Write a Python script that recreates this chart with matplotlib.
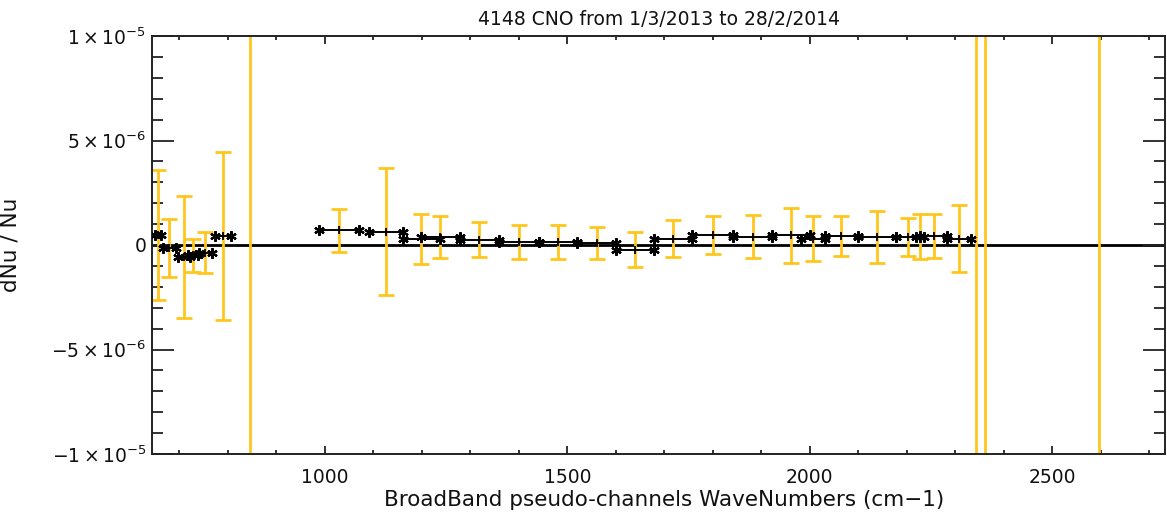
"""Relative wavenumber shift dNu/Nu per broadband pseudo-channel, IDL-style plot."""

import matplotlib

matplotlib.use("Agg")
import matplotlib.pyplot as plt
from matplotlib.ticker import MultipleLocator

# pseudo-channel limits (cm-1), shift dNu/Nu and its error (both in units of 1e-6)
wn_lo = [650, 667, 698, 719, 741, 774, 836, 988, 1091, 1161, 1199, 1278, 1359, 1441, 1521,
         1600, 1679, 1758, 1842, 1921, 1981, 2031, 2099, 2178, 2218, 2228, 2283, 2338, 2357, 2590]
wn_hi = [663, 693, 722, 739, 767, 806, 856, 1071, 1161, 1237, 1278, 1359, 1441, 1521, 1600,
         1679, 1758, 1842, 1922, 2000, 2031, 2099, 2178, 2226, 2235, 2283, 2332, 2348, 2367, 2600]
shift = [0.47, -0.13, -0.57, -0.50, -0.36, 0.44, 25.0, 0.70, 0.64, 0.28, 0.39, 0.26, 0.15, 0.14, 0.09,
         -0.22, 0.30, 0.48, 0.40, 0.46, 0.31, 0.42, 0.38, 0.38, 0.40, 0.45, 0.31, 25.0, 25.0, 25.0]
err = [3.10, 1.38, 2.93, 0.81, 0.97, 4.03, 60.0, 1.04, 3.03, 1.20, 1.00, 0.82, 0.81, 0.82, 0.77,
       0.85, 0.88, 0.90, 1.02, 1.30, 1.08, 0.97, 1.26, 0.89, 1.09, 1.05, 1.61, 60.0, 60.0, 60.0]

yticks = [-1e-5, -5e-6, 0, 5e-6, 1e-5]
ylabels = [r"$-1\times10^{-5}$", r"$-5\times10^{-6}$", "0", r"$5\times10^{-6}$", r"$1\times10^{-5}$"]
xticks = [1000, 1500, 2000, 2500]

GOLD = "#ffc61e"
INK = "#111111"

plt.rcParams["font.family"] = "DejaVu Sans"
plt.rcParams["mathtext.fontset"] = "dejavusans"

fig = plt.figure(figsize=(11.67, 5.14), dpi=100)
W, H = 1167, 514
ax = fig.add_axes([152 / W, (H - 454) / H, (1165 - 152) / W, (454 - 36) / H])

ax.axhline(0, color="k", lw=2.0, zorder=1.5)

for lo, hi, v, e in zip(wn_lo, wn_hi, shift, err):
    mid = (lo + hi) / 2
    v, e = v * 1e-6, e * 1e-6
    ax.errorbar(mid, v, yerr=e, fmt="none", ecolor=GOLD, elinewidth=2, capsize=6, capthick=2, zorder=2)
    ax.plot([lo, hi], [v, v], "-", color="k", lw=1.4, marker=(6, 2, 0), ms=7.5, mew=1.6, zorder=3)
    ax.plot(mid, v, marker="|", color="k", ms=6, mew=1.3, zorder=4)

ax.set_xlim(644, 2732)
ax.set_ylim(-1e-5, 1e-5)
ax.set_xticks(xticks)
ax.xaxis.set_minor_locator(MultipleLocator(100))
ax.set_yticks(yticks, ylabels)
ax.yaxis.set_minor_locator(MultipleLocator(1e-6))

for s in ax.spines.values():
    s.set_linewidth(1.4)
    s.set_color("#222222")
ax.tick_params(which="both", direction="in", top=True, right=True, color="#222222", width=1.3,
               labelcolor=INK, labelsize=13.5)
ax.tick_params(axis="x", which="major", length=6, pad=10)
ax.tick_params(axis="x", which="minor", length=3)
ax.tick_params(axis="y", which="major", length=16, pad=4)
ax.tick_params(axis="y", which="minor", length=8)

ax.set_title("4148 CNO from 1/3/2013 to 28/2/2014", fontsize=13.5, color=INK, pad=8)
ax.set_xlabel("BroadBand pseudo-channels WaveNumbers (cm\u22121)", fontsize=15.5, color=INK)
ax.xaxis.set_label_coords(0.506, -0.086)
ax.set_ylabel("dNu / Nu", fontsize=15.5, color=INK)
ax.yaxis.set_label_coords(-0.13, 0.5)

fig.savefig("out.png", dpi=100)
